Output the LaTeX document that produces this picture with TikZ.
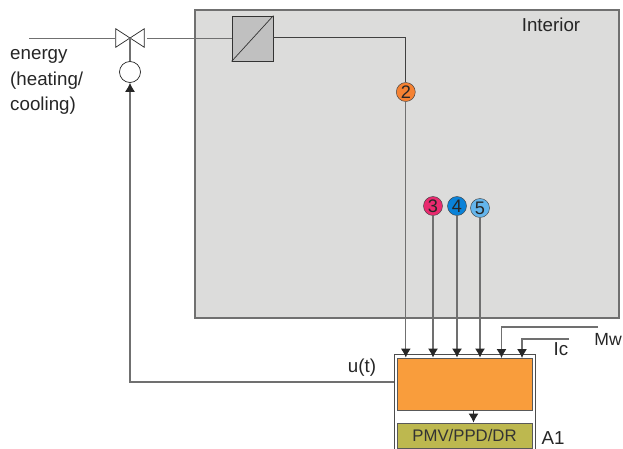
\documentclass[tikz,border=0pt]{standalone}
\usepackage{fontspec}
\setmainfont{Liberation Sans}
\usetikzlibrary{arrows.meta}
\definecolor{interiorgray}{HTML}{DCDCDB}
\definecolor{pipegray}{HTML}{707070}
\definecolor{exchgray}{HTML}{C0C0C0}
\definecolor{ctrlorange}{HTML}{F99D3C}
\definecolor{pmvgreen}{HTML}{BDB84F}
\definecolor{sensorii}{HTML}{F58233}
\definecolor{sensoriii}{HTML}{E92A6F}
\definecolor{sensoriv}{HTML}{0A82D8}
\definecolor{sensorv}{HTML}{64B5EC}
\begin{document}
\begin{tikzpicture}[x=0.03cm,y=-0.03cm,>={Latex[length=0.27cm,width=0.3cm,color=black!85]},
    label node/.style={inner sep=0,font=\fontsize{16}{22}\selectfont,text=black!85},
    sensor node/.style={circle,draw=black!75,inner sep=0,minimum size=0.57cm,font=\fontsize{15.5}{16}\selectfont,text=black!85},
    pipe/.style={pipegray,line width=0.9pt},
    block node/.style={draw=black!65,line width=0.8pt,minimum width=4.05cm,inner sep=0}]
    \path[use as bounding box,clip] (0,0) rectangle (623,448);

    \node[draw=pipegray,fill=interiorgray,line width=1pt,minimum width=12.72cm,minimum height=9.24cm,inner sep=0] at (407,164) (interior) {};
    \node[label node] at (551,25) (intlabel) {Interior};
    \node[draw=black!80,fill=exchgray,line width=0.7pt,minimum width=1.23cm,minimum height=1.35cm,inner sep=0] at (252.5,38.5) (exch) {};
    \draw[black!80,line width=0.6pt] (exch.south west) -- (exch.north east);

    % valve
    \node[minimum width=0.84cm,minimum height=0.54cm,inner sep=0] at (130,38) (valve) {};
    \draw[black!85,line width=0.6pt] (valve.north west) -- (valve.south east) -- (valve.north east) -- (valve.south west) -- cycle;
    \node[circle,draw=black!85,line width=0.6pt,minimum size=0.63cm,inner sep=0] at (130,72) (act) {};
    \coordinate (supply) at (29,38.5);
    \coordinate (valveleft) at (115,38.5);
    \coordinate (valveright) at (147,38.5);
    \node[label node,align=left,anchor=north west] at (10,49) (energy) {energy\\(heating/\\cooling)};

    \draw[pipe] (supply) -- (valveleft);
    \draw[pipe] (valveright) -- (exch.west |- valveright);
    \draw[pipe] (valve.center) -- (act.north);

    % controller
    \node[draw=black!70,line width=0.8pt,minimum width=4.23cm,minimum height=3.6cm,inner sep=0] at (464.5,414) (a1box) {};
    \node[block node,fill=ctrlorange,minimum height=1.56cm] at (464.5,384) (ctrl) {};
    \node[block node,fill=pmvgreen,minimum height=0.75cm,font=\fontsize{14.3}{16}\selectfont,text=black!80] at (464.5,435.5) (pmv) {PMV/PPD/DR};
    \node[label node] at (553,438) (a1) {A1};
    \node[label node] at (362,368) (ut) {u(t)};
    \node[label node,anchor=east,font=\fontsize{15}{22}\selectfont] at (622,339) (mw) {Mw};
    \node[label node] at (561,349) (ic) {Ic};

    % sensors
    \node[sensor node,fill=sensorii] at (405.8,92) (s2) {2};
    \node[sensor node,fill=sensoriii] at (433,206) (s3) {3};
    \node[sensor node,fill=sensoriv] at (457,206) (s4) {4};
    \node[sensor node,fill=sensorv] at (480,208) (s5) {5};

    \draw[black!75,line width=0.6pt] (exch.east |- 0,37) -| (s2.north);
    \draw[->,pipe] (s2.south) -- (s2.south |- ctrl.north);
    \draw[->,pipe] (s3.south) -- (s3.south |- ctrl.north);
    \draw[->,pipe] (s4.south) -- (s4.south |- ctrl.north);
    \draw[->,pipe] (s5.south) -- (s5.south |- ctrl.north);
    \coordinate (mwend) at (598,327);
    \coordinate (icend) at (569,339);
    \draw[->,pipe] (mwend) -| (501.5,358);
    \draw[->,pipe] (icend) -| (522,358);
    \draw[->,pipe] (a1box.west |- 0,382) -| (act.south);
    \draw[->,black!80,line width=0.8pt] (ctrl.south -| 473.5,0) -- (pmv.north -| 473.5,0);
\end{tikzpicture}
\end{document}
